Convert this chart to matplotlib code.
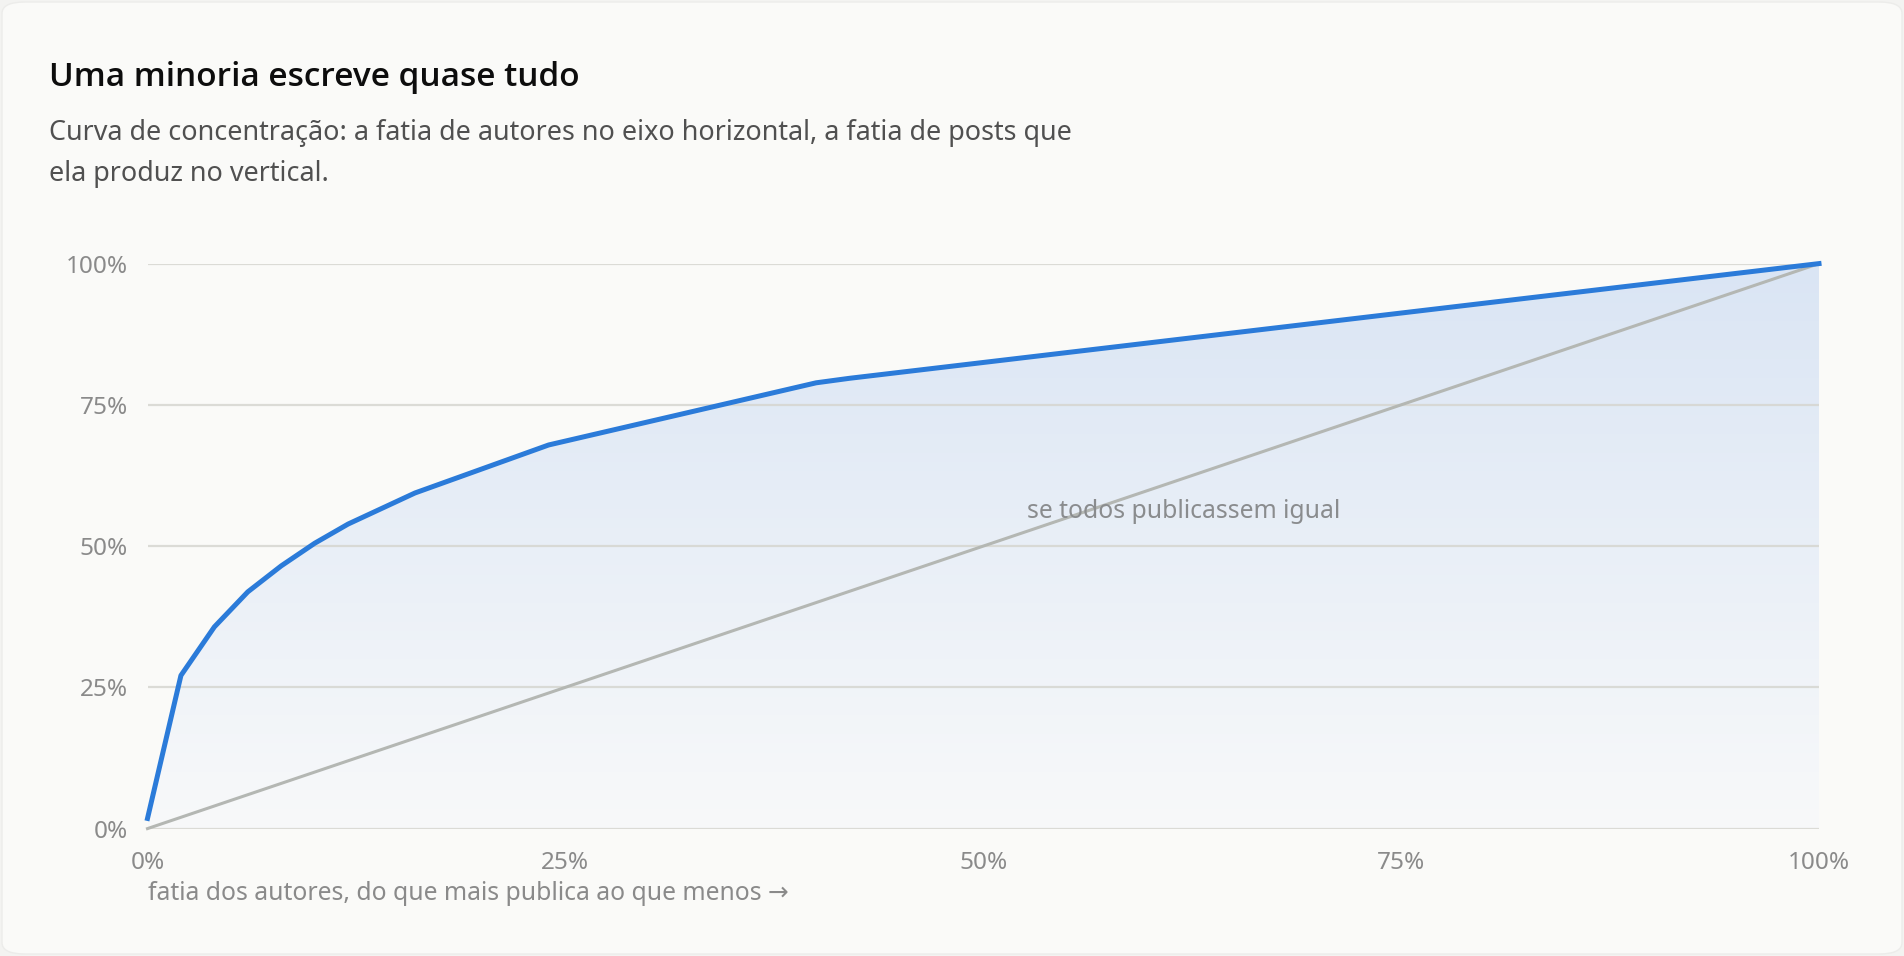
import numpy as np
import matplotlib
matplotlib.use("Agg")
import matplotlib.pyplot as plt
from matplotlib.patches import FancyBboxPatch
from matplotlib.colors import LinearSegmentedColormap
from matplotlib.ticker import FuncFormatter

plt.rcParams['font.family'] = ['Noto Sans', 'DejaVu Sans']

# share of authors (most active first) vs share of posts
author_share = [0, 2, 4, 6, 8, 10, 12, 16, 24, 40, 42, 100]
post_share = [1.8, 27.1, 35.7, 41.9, 46.5, 50.5, 53.9, 59.4, 67.9, 78.9, 79.7, 100]
equal_share = [0, 100]
ticks = [0, 25, 50, 75, 100]

title = "Uma minoria escreve quase tudo"
subtitle_lines = ["Curva de concentração: a fatia de autores no eixo horizontal, a fatia de posts que",
                  "ela produz no vertical."]
xlabel = "fatia dos autores, do que mais publica ao que menos →"
equal_label = "se todos publicassem igual"

W, H = 1904, 956
bg = "#fafaf8"
blue = "#2b7bd9"

fig = plt.figure(figsize=(W / 100, H / 100), dpi=100)
fig.patch.set_facecolor("#f3f3f1")
card = FancyBboxPatch((2 / W, 2 / H), 1 - 4 / W, 1 - 4 / H,
                      boxstyle="round,pad=0,rounding_size=0.012",
                      transform=fig.transFigure, facecolor=bg,
                      edgecolor="#ececea", linewidth=1, zorder=-10)
fig.patches.append(card)

ax = fig.add_axes([147.5 / W, 1 - 828.6 / H, 1671.5 / W, 565 / H])
ax.set_facecolor("none")
ax.set_xlim(0, 100)
ax.set_ylim(0, 100)

for t in ticks:
    ax.axhline(t, color="#d6d6d0", lw=1.6, alpha=0.85, zorder=1.5)

# gradient area under the curve
poly = ax.fill_between(author_share, post_share, 0, facecolor="none", edgecolor="none")
cmap = LinearSegmentedColormap.from_list("fade", ["#f8f9fa", "#dae5f4"])
grad = np.linspace(0, 1, 256).reshape(-1, 1)
img = ax.imshow(grad, extent=[0, 100, 0, 100], origin="lower", aspect="auto",
                cmap=cmap, zorder=1)
img.set_clip_path(poly.get_paths()[0], transform=ax.transData)

ax.plot(equal_share, equal_share, color="#b4b7b3", lw=2.2, zorder=2, clip_on=False)
ax.plot(author_share, post_share, color=blue, lw=3.6, zorder=3, clip_on=False,
        solid_joinstyle="round")

ax.text(52.6, 56.2, equal_label, color="#8a8c8e", fontsize=17.8, ha="left", va="center")

ax.set_xticks(ticks)
ax.set_yticks(ticks)
pct = FuncFormatter(lambda v, p: f"{v:.0f}%")
ax.xaxis.set_major_formatter(pct)
ax.yaxis.set_major_formatter(pct)
ax.tick_params(length=0, labelsize=17.5, labelcolor="#8a8a8a")
ax.tick_params(axis="y", pad=14)
ax.tick_params(axis="x", pad=16)
for s in ax.spines.values():
    s.set_visible(False)

fig.text(148 / W, 1 - 893 / H, xlabel, color="#8a8a8a", fontsize=17.8, ha="left", va="center")
fig.text(48.6 / W, 1 - 86 / H, title, color="#0d0d0d", fontsize=24,
         family=["Open Sans", "Noto Sans", "DejaVu Sans"], fontweight="semibold",
         ha="left", va="baseline")
for i, line in enumerate(subtitle_lines):
    fig.text(48.6 / W, 1 - (140 + 41 * i) / H, line, color="#505050", fontsize=19.4,
             ha="left", va="baseline")

fig.savefig("out.png", dpi=100, facecolor=fig.get_facecolor())
